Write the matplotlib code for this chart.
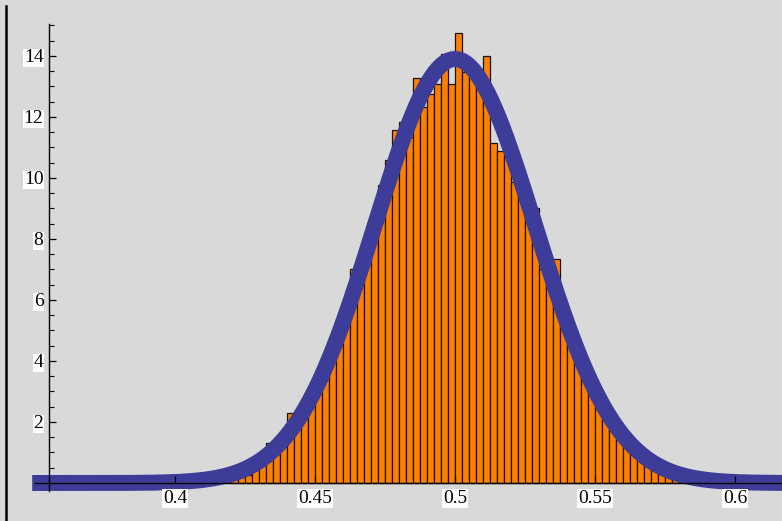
import numpy as np
import matplotlib.pyplot as plt
from matplotlib.lines import Line2D

# histogram bins (left edges) and densities
bin_width = 0.0025
bin_left = [0.42 + i * bin_width for i in range(65)]
density = [
    0.12, 0.2, 0.27, 0.43, 0.59, 1.3, 0.95, 1.2, 2.3, 1.9,
    2.5, 2.75, 3.4, 3.7, 4.25, 4.85, 5.16, 7.0, 6.49, 7.6,
    8.5, 9.77, 10.6, 11.56, 11.83, 11.35, 13.29, 12.33, 12.74, 13.07,
    14.05, 13.07, 14.75, 13.49, 13.3, 13.0, 14.0, 11.14, 10.89, 10.7,
    9.87, 9.9, 9.2, 9.0, 7.0, 7.0, 7.33, 5.6, 4.85, 4.25,
    3.65, 2.9, 2.5, 2.1, 1.75, 1.45, 1.2, 0.95, 0.75, 0.58,
    0.45, 0.3, 0.22, 0.15, 0.08,
]

# fitted normal curve
mu = 0.5
sigma = 0.0287

x_ticks = [0.4, 0.45, 0.5, 0.55, 0.6]
x_labels = ['0.4', '0.45', '0.5', '0.55', '0.6']
y_ticks = [2, 4, 6, 8, 10, 12, 14]

bg = '#d9d9d9'
fig = plt.figure(figsize=(7.82, 5.21), dpi=100, facecolor=bg)
ax = fig.add_axes([0, 0, 1, 1], facecolor=bg)

ax.bar(bin_left, density, width=bin_width, align='edge', color='#ff8000',
       edgecolor='#1a1208', linewidth=0.9, zorder=1)

xs = np.linspace(0.349, 0.625, 400)
pdf = np.exp(-0.5 * ((xs - mu) / sigma) ** 2) / (sigma * np.sqrt(2 * np.pi))
ax.plot(xs, pdf, color='#3d3d99', linewidth=11.5, solid_capstyle='butt', zorder=2)

ax.set_xlim(0.3375, 0.6168)
ax.set_ylim(-1.246, 15.836)

# axes cross at (0.355, 0) like the original
for side in ['top', 'right']:
    ax.spines[side].set_visible(False)
ax.spines['left'].set_position(('data', 0.355))
ax.spines['bottom'].set_position(('data', 0))
ax.spines['left'].set_bounds(-0.27, 15.05)
ax.spines['bottom'].set_bounds(0.35, 0.62)
for side in ['left', 'bottom']:
    ax.spines[side].set_linewidth(1.0)
    ax.spines[side].set_color('black')
ax.set_axisbelow(False)

ax.set_xticks(x_ticks)
ax.set_xticklabels(x_labels)
ax.set_yticks(y_ticks)
ax.set_yticks(np.arange(0.5, 15.01, 0.5), minor=True)
ax.tick_params(axis='x', direction='in', length=5, width=0.9, pad=5)
ax.tick_params(axis='y', which='major', direction='in', length=5, width=0.9, pad=4)
ax.tick_params(axis='y', which='minor', direction='in', length=3.5, width=0.8)

for lab in ax.get_xticklabels() + ax.get_yticklabels():
    lab.set_fontfamily('Liberation Serif')
    lab.set_fontsize(14)
    lab.set_bbox(dict(facecolor='white', edgecolor='none', pad=0.6))

# black frame line on the left edge of the picture
fig.add_artist(Line2D([5.8 / 782, 5.8 / 782], [0, 515 / 521],
                      transform=fig.transFigure, color='black', linewidth=1.8))

fig.savefig('out.png', dpi=100, facecolor=bg)
